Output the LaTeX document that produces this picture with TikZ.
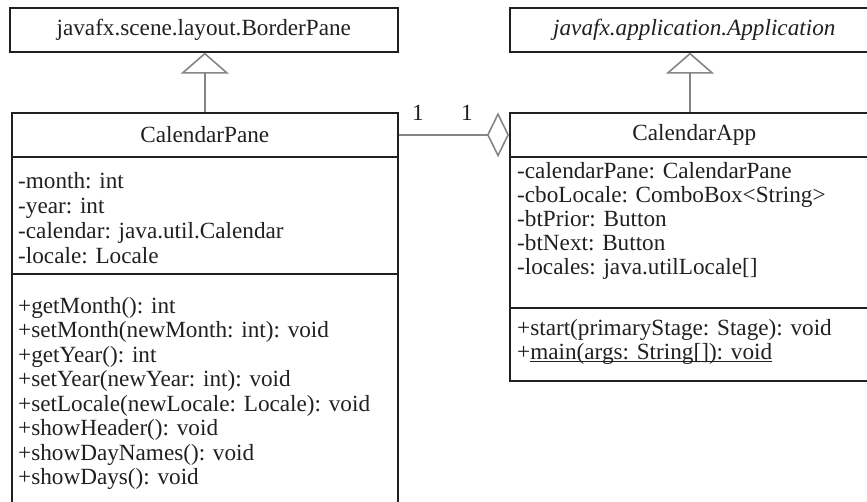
\documentclass[tikz,border=0pt]{standalone}
\usepackage{fontspec}
\setmainfont{Liberation Serif}
\usetikzlibrary{arrows.meta}
\definecolor{ink}{HTML}{231F20}
\definecolor{conn}{HTML}{858585}
\newcommand\myul[1]{\setbox0\hbox{#1}\rlap{\rule[-3.2pt]{\wd0}{1.3pt}}\box0}
\begin{document}
\begin{tikzpicture}[x=1pt,y=-1pt,
  every node/.style={font=\fontsize{23.2}{24}\selectfont, text=ink},
  box/.style={draw=ink, line width=1.6pt, inner sep=0pt, rectangle, anchor=north west},
  member/.style={anchor=base west, inner sep=0pt},
  gen/.style={draw=conn, line width=1.6pt, -{Triangle[open, width=48pt, length=21pt]}},
  agg/.style={draw=conn, line width=1.6pt, -{Diamond[open, width=45pt, length=22pt]}},
]
\useasboundingbox (0,0) rectangle (867,501);
\clip (0,0) rectangle (867,501);

% superclasses
\node[box, minimum width=388pt, minimum height=44pt] (border) at (9,7) {javafx.scene.layout.BorderPane};
\node[box, minimum width=369pt, minimum height=44pt] (appl) at (509,7) {\itshape javafx.application.Application};

% CalendarPane
\node[box, minimum width=386pt, minimum height=44pt] (pane) at (11,112) {CalendarPane};
\node[box, minimum width=386pt, minimum height=117pt] (paneAttr) at (11,156) {};
\node[box, minimum width=386pt, minimum height=235pt] (paneOps) at (11,273) {};

\node[member] (pa1) at (18,188) {-month: int};
\node[member] (pa2) at (18,213) {-year: int};
\node[member] (pa3) at (18,238) {-calendar: java.util.Calendar};
\node[member] (pa4) at (18,263) {-locale: Locale};

\node[member] (pm1) at (18,313) {+getMonth(): int};
\node[member] (pm2) at (18,337.5) {+setMonth(newMonth: int): void};
\node[member] (pm3) at (18,362) {+getYear(): int};
\node[member] (pm4) at (18,386.5) {+setYear(newYear: int): void};
\node[member] (pm5) at (18,411) {+setLocale(newLocale: Locale): void};
\node[member] (pm6) at (18,435.5) {+showHeader(): void};
\node[member] (pm7) at (18,460) {+showDayNames(): void};
\node[member] (pm8) at (18,484.5) {+showDays(): void};

% CalendarApp
\node[box, minimum width=369pt, minimum height=44pt] (app) at (509,112) {CalendarApp};
\node[box, minimum width=369pt, minimum height=151pt] (appAttr) at (509,156) {};
\node[box, minimum width=369pt, minimum height=73pt] (appOps) at (509,307) {};

\node[member] (aa1) at (517,178) {-calendarPane: CalendarPane};
\node[member] (aa2) at (517,202) {-cboLocale: ComboBox<String>};
\node[member] (aa3) at (517,226) {-btPrior: Button};
\node[member] (aa4) at (517,250) {-btNext: Button};
\node[member] (aa5) at (517,274) {-locales: java.utilLocale[]};

\node[member] (am1) at (517,335) {+start(primaryStage: Stage): void};
\node[member] (am2) at (517,359) {+\myul{main(args: String[]): void}};

% connectors
\draw[gen] (pane.north) -- (pane.north |- border.south);
\coordinate (appTop) at (690,112);
\draw[gen] (appTop) -- (appTop |- appl.south);
\draw[agg] (pane.east) -- (app.west);

\node (mult1) at (418,113) {1};
\node (mult2) at (467,113) {1};
\end{tikzpicture}
\end{document}
